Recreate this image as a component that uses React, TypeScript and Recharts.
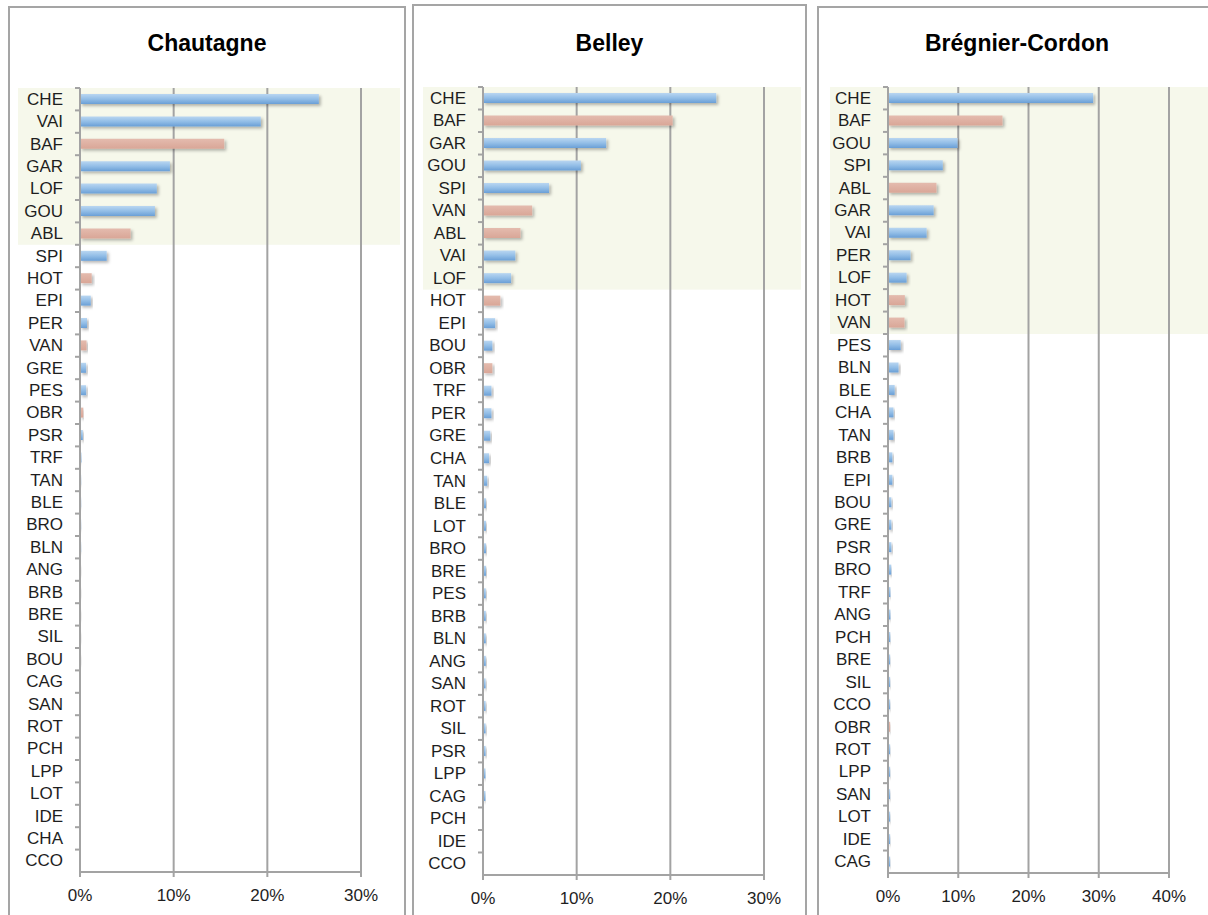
import React from 'react';
import { BarChart, Bar, XAxis, YAxis, CartesianGrid, ReferenceArea, Cell } from 'recharts';

// species codes drawn in salmon (the rest are blue)
const RED_SITES = ['BAF', 'ABL', 'HOT', 'VAN', 'OBR'];

const CHAUTAGNE_SITES = ['CHE', 'VAI', 'BAF', 'GAR', 'LOF', 'GOU', 'ABL', 'SPI', 'HOT', 'EPI', 'PER', 'VAN', 'GRE', 'PES', 'OBR', 'PSR', 'TRF', 'TAN', 'BLE', 'BRO', 'BLN', 'ANG', 'BRB', 'BRE', 'SIL', 'BOU', 'CAG', 'SAN', 'ROT', 'PCH', 'LPP', 'LOT', 'IDE', 'CHA', 'CCO'];
const CHAUTAGNE_PCT = [25.5, 19.3, 15.4, 9.6, 8.2, 8.0, 5.4, 2.85, 1.25, 1.15, 0.75, 0.7, 0.65, 0.65, 0.35, 0.3, 0.15, 0.12, 0.12, 0.12, 0.12, 0.1, 0.1, 0.1, 0.1, 0.1, 0.08, 0.08, 0.03, 0.03, 0.03, 0.03, 0.02, 0.02, 0.02];
const CHAUTAGNE_TOP = 7;

const BELLEY_SITES = ['CHE', 'BAF', 'GAR', 'GOU', 'SPI', 'VAN', 'ABL', 'VAI', 'LOF', 'HOT', 'EPI', 'BOU', 'OBR', 'TRF', 'PER', 'GRE', 'CHA', 'TAN', 'BLE', 'LOT', 'BRO', 'BRE', 'PES', 'BRB', 'BLN', 'ANG', 'SAN', 'ROT', 'SIL', 'PSR', 'LPP', 'CAG', 'PCH', 'IDE', 'CCO'];
const BELLEY_PCT = [24.9, 20.25, 13.15, 10.45, 7.05, 5.25, 4.0, 3.45, 3.0, 1.85, 1.3, 1.0, 1.0, 0.9, 0.9, 0.78, 0.65, 0.45, 0.32, 0.32, 0.32, 0.32, 0.3, 0.3, 0.3, 0.3, 0.28, 0.28, 0.28, 0.28, 0.26, 0.26, 0.03, 0.03, 0.03];
const BELLEY_TOP = 9;

const BREGNIER_SITES = ['CHE', 'BAF', 'GOU', 'SPI', 'ABL', 'GAR', 'VAI', 'PER', 'LOF', 'HOT', 'VAN', 'PES', 'BLN', 'BLE', 'CHA', 'TAN', 'BRB', 'EPI', 'BOU', 'GRE', 'PSR', 'BRO', 'TRF', 'ANG', 'PCH', 'BRE', 'SIL', 'CCO', 'OBR', 'ROT', 'LPP', 'SAN', 'LOT', 'IDE', 'CAG'];
const BREGNIER_PCT = [29.2, 16.3, 9.9, 7.8, 6.9, 6.5, 5.5, 3.2, 2.65, 2.4, 2.35, 1.8, 1.5, 0.95, 0.78, 0.78, 0.62, 0.62, 0.48, 0.48, 0.48, 0.46, 0.34, 0.34, 0.32, 0.3, 0.3, 0.3, 0.3, 0.3, 0.3, 0.3, 0.3, 0.3, 0.3];
const BREGNIER_TOP = 11;

const TICKS_30 = [0, 10, 20, 30];
const TICKS_40 = [0, 10, 20, 30, 40];

const FONT = '"Liberation Sans", Arial, sans-serif';
const GRID = '#a3a3a3';

interface PanelProps {
  id: string;
  title: string;
  sites: string[];
  pct: number[];
  top: number;
  ticks: number[];
  left: number;
  top0: number;
  width: number;
  chartWidth: number;
  margin: { top: number; right: number; bottom: number; left: number };
  hlLeft: number;
  hlRight: number;
}

function Panel(p: PanelProps) {
  const data = p.sites.map((site, i) => ({ site, pct: p.pct[i] }));
  const plotH = 915 - p.margin.top - p.margin.bottom - 30;
  const band = plotH / p.sites.length;

  const SiteTick = (props: any) => {
    const { x, y, payload } = props;
    return (
      <g>
        <line x1={x + 12} x2={x + 17} y1={y - band / 2} y2={y - band / 2} stroke={GRID} strokeWidth={2} />
        <text x={x} y={y} textAnchor="end" dominantBaseline="central" fontSize={17} fill="#1e1e1e" fontFamily={FONT}>
          {payload.value}
        </text>
      </g>
    );
  };

  return (
    <>
      <div
        style={{
          position: 'absolute',
          left: p.left,
          top: p.top0,
          width: p.width,
          height: 1000,
          border: '2px solid #a5a5a5',
          boxSizing: 'border-box',
          background: '#fff',
        }}
      />
      <div
        style={{
          position: 'absolute',
          left: p.left,
          top: 30,
          width: p.width,
          textAlign: 'center',
          fontFamily: FONT,
          fontWeight: 'bold',
          fontSize: 23,
          color: '#000',
        }}
      >
        {p.title}
      </div>
      <div style={{ position: 'absolute', left: p.left, top: 0 }}>
        <BarChart width={p.chartWidth} height={915} data={data} layout="vertical" margin={p.margin} barSize={10}>
          <defs>
            <linearGradient id={`blue-${p.id}`} x1="0" y1="0" x2="0" y2="1">
              <stop offset="0%" stopColor="#b9d6f1" />
              <stop offset="50%" stopColor="#93bee7" />
              <stop offset="100%" stopColor="#6a9fd6" />
            </linearGradient>
            <linearGradient id={`red-${p.id}`} x1="0" y1="0" x2="0" y2="1">
              <stop offset="0%" stopColor="#e4bbae" />
              <stop offset="100%" stopColor="#d9a697" />
            </linearGradient>
            <filter id={`shadow-${p.id}`} x="-10%" y="-50%" width="130%" height="220%">
              <feDropShadow dx="2" dy="2" stdDeviation="1.5" floodColor="#000" floodOpacity="0.28" />
            </filter>
          </defs>
          <ReferenceArea
            y1={p.sites[0]}
            y2={p.sites[p.top - 1]}
            ifOverflow="visible"
            zIndex={-200}
            shape={(s: any) => (
              <rect x={p.hlLeft} y={s.y} width={p.hlRight - p.hlLeft} height={s.height} fill="#f6f8eb" />
            )}
          />
          <CartesianGrid horizontal={false} stroke={GRID} strokeWidth={2} />
          <XAxis
            type="number"
            dataKey="pct"
            domain={[p.ticks[0], p.ticks[p.ticks.length - 1]]}
            ticks={p.ticks}
            tickFormatter={(v: number) => `${v}%`}
            height={30}
            tickSize={5}
            tickMargin={12}
            stroke={GRID}
            strokeWidth={2}
            tick={{ fontSize: 17, fill: '#1e1e1e', fontFamily: FONT }}
          />
          <YAxis
            type="category"
            dataKey="site"
            width={60}
            interval={0}
            tickSize={0}
            tickMargin={17}
            stroke={GRID}
            strokeWidth={2}
            tick={SiteTick}
          />
          <Bar dataKey="pct" isAnimationActive={false} filter={`url(#shadow-${p.id})`}>
            {data.map((d, i) => (
              <Cell key={`cell-${i}`} fill={RED_SITES.includes(d.site) ? `url(#red-${p.id})` : `url(#blue-${p.id})`} />
            ))}
          </Bar>
        </BarChart>
      </div>
    </>
  );
}

export default function App() {
  return (
    <div style={{ position: 'absolute', left: 0, top: 0, width: 1208, height: 915, overflow: 'hidden', background: '#fff' }}>
      <Panel
        id="cha"
        title="Chautagne"
        sites={CHAUTAGNE_SITES}
        pct={CHAUTAGNE_PCT}
        top={CHAUTAGNE_TOP}
        ticks={TICKS_30}
        left={8}
        top0={6}
        width={398}
        chartWidth={397}
        margin={{ top: 88, right: 44, bottom: 13, left: 12 }}
        hlLeft={10}
        hlRight={392}
      />
      <Panel
        id="bel"
        title="Belley"
        sites={BELLEY_SITES}
        pct={BELLEY_PCT}
        top={BELLEY_TOP}
        ticks={TICKS_30}
        left={412}
        top0={4}
        width={395}
        chartWidth={394}
        margin={{ top: 87, right: 42, bottom: 10, left: 11 }}
        hlLeft={11}
        hlRight={389}
      />
      <Panel
        id="bre"
        title="Brégnier-Cordon"
        sites={BREGNIER_SITES}
        pct={BREGNIER_PCT}
        top={BREGNIER_TOP}
        ticks={TICKS_40}
        left={817}
        top0={6}
        width={400}
        chartWidth={391}
        margin={{ top: 87, right: 39, bottom: 12, left: 11 }}
        hlLeft={13}
        hlRight={391}
      />
    </div>
  );
}
